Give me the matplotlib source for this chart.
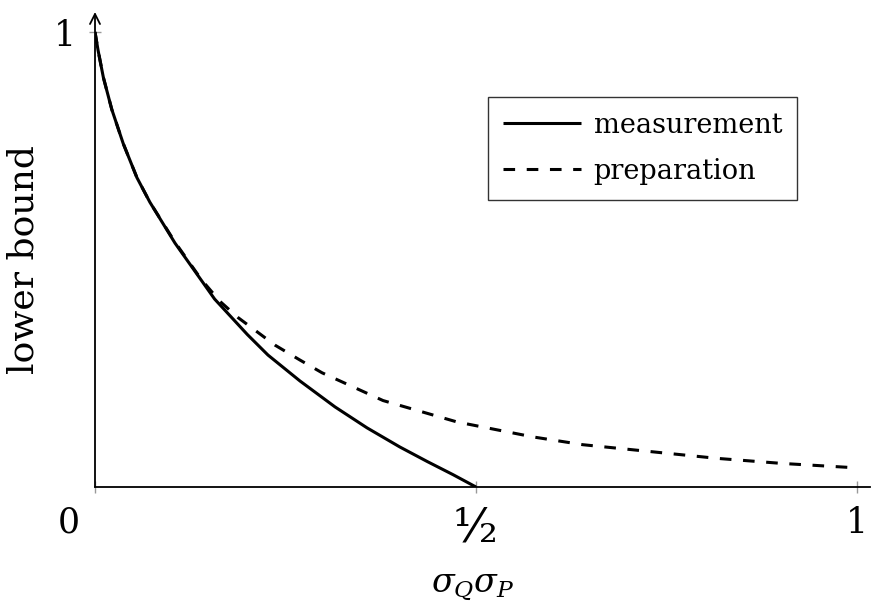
import matplotlib
matplotlib.use("Agg")
import matplotlib.pyplot as plt

plt.rcParams['font.family'] = ['DejaVu Serif']
plt.rcParams['mathtext.fontset'] = 'dejavuserif'

# values
meas_x = [0, 0.004, 0.011, 0.022, 0.037, 0.055, 0.072, 0.105, 0.157, 0.20,
          0.227, 0.269, 0.315, 0.357, 0.40, 0.436, 0.47, 0.5]
meas_y = [1.0, 0.96, 0.90, 0.83, 0.755, 0.68, 0.626, 0.536, 0.413, 0.335,
          0.290, 0.233, 0.176, 0.130, 0.088, 0.056, 0.027, 0.0]

prep_x = [0, 0.004, 0.011, 0.022, 0.037, 0.055, 0.072, 0.105, 0.14, 0.164,
          0.188, 0.236, 0.269, 0.298, 0.378, 0.475, 0.575, 0.64, 0.816, 0.9, 1.0]
prep_y = [1.0, 0.96, 0.90, 0.83, 0.755, 0.68, 0.626, 0.538, 0.455, 0.408,
          0.372, 0.312, 0.279, 0.251, 0.190, 0.143, 0.110, 0.093, 0.063, 0.052, 0.042]

xticks = [0.5, 1]
xticklabels = ['\u00b9\u2044\u2082', '1']

fig = plt.figure(figsize=(8.73, 6.1), dpi=100)
ax = fig.add_axes([95 / 873, 123 / 610, 775 / 873, 475 / 610])

ax.plot(meas_x, meas_y, color='black', lw=2.2, label='measurement',
        solid_capstyle='butt', solid_joinstyle='round')
ax.plot(prep_x, prep_y, color='black', lw=2.2, dashes=(3.8, 3.8),
        label='preparation')

ax.set_xlim(0, 775 / 762)
ax.set_ylim(0, 475 / 455)

for s in ['top', 'right', 'left']:
    ax.spines[s].set_visible(False)
ax.spines['bottom'].set_linewidth(1.3)
ax.annotate('', xy=(0, 1.0), xycoords='axes fraction', xytext=(0, 0),
            arrowprops=dict(arrowstyle='->', lw=1.3, color='black',
                            shrinkA=0, shrinkB=0, mutation_scale=18))

ax.set_xticks([0] + xticks)
ax.set_xticklabels([''] + xticklabels)
ax.set_yticks([1])
ax.set_yticklabels(['1'])
ax.tick_params(axis='both', direction='inout', length=8, width=1,
               color='#999999', labelsize=25, pad=10)
ax.get_xticklabels()[1].set_fontsize(34)
ax.text(-0.035, -0.079, '0', fontsize=25, ha='center', va='center',
        transform=ax.transData, clip_on=False)

ax.set_ylabel('lower bound', fontsize=26)
ax.yaxis.set_label_coords(-0.07, 0.478)
ax.set_xlabel(r'$\sigma_Q\sigma_P$', fontsize=24)
ax.xaxis.set_label_coords(0.487, -0.175)

leg = ax.legend(loc='upper right', bbox_to_anchor=(797 / 873, 1 - 97 / 610),
                bbox_transform=fig.transFigure, fontsize=19.5, frameon=True,
                fancybox=False, edgecolor='black', handlelength=2.9,
                borderpad=0.55, labelspacing=0.7, handletextpad=0.45,
                borderaxespad=0)
leg.get_frame().set_linewidth(1.0)

fig.savefig('out.png', dpi=100)
